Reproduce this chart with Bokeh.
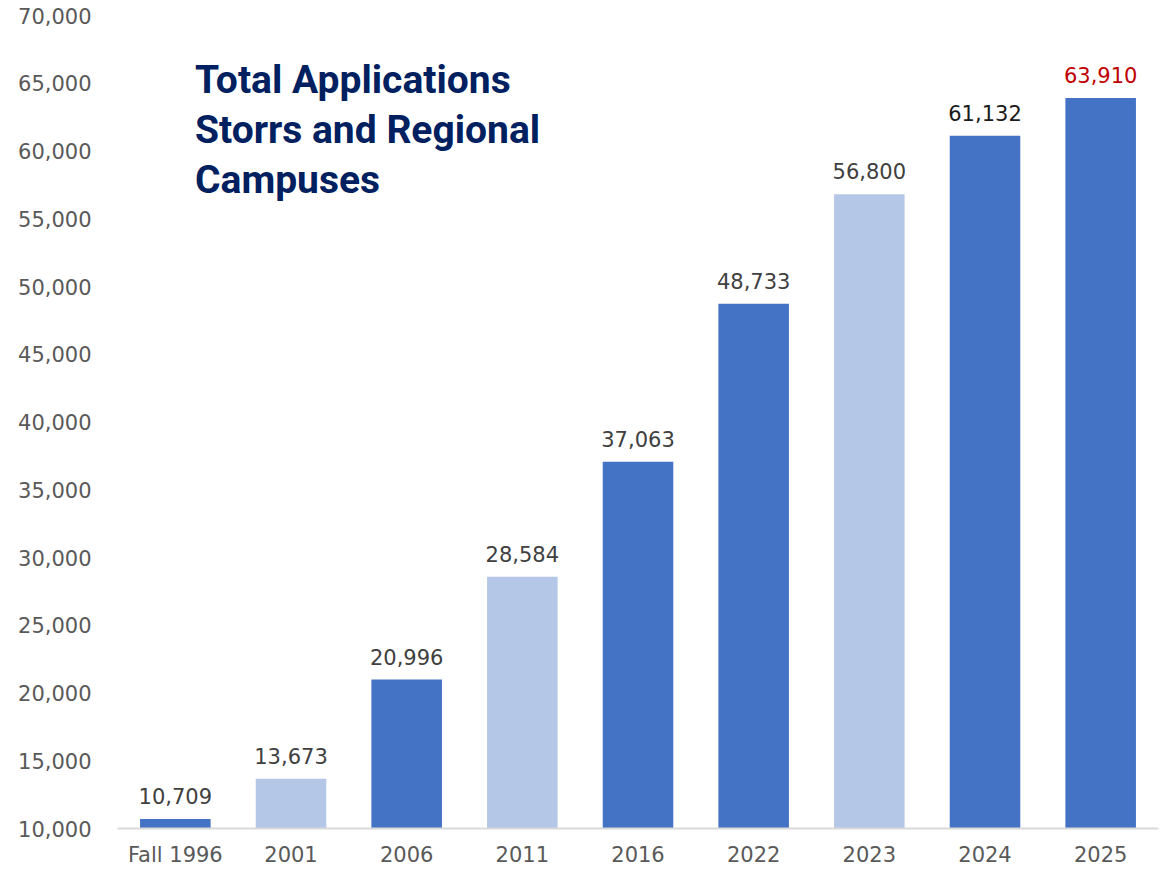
from bokeh.plotting import figure
from bokeh.models import ColumnDataSource, Range1d, FixedTicker, NumeralTickFormatter, Label
from bokeh.core.properties import value
from bokeh.embed import file_html
from bokeh.resources import INLINE

years = ["Fall 1996", "2001", "2006", "2011", "2016", "2022", "2023", "2024", "2025"]
applications = [10709, 13673, 20996, 28584, 37063, 48733, 56800, 61132, 63910]
labels = ["10,709", "13,673", "20,996", "28,584", "37,063", "48,733", "56,800", "61,132", "63,910"]
bar_colors = ["#4472C4", "#B4C7E7", "#4472C4", "#B4C7E7", "#4472C4", "#4472C4", "#B4C7E7", "#4472C4", "#4472C4"]
label_colors = ["#404040"] * 7 + ["#1a1a1a", "#C00000"]
title_lines = ["Total Applications", "Storrs and Regional", "Campuses"]
y_ticks = [10000, 15000, 20000, 25000, 30000, 35000, 40000, 45000, 50000, 55000, 60000, 65000, 70000]

FONT = "DejaVu Sans"
TFONT = "Roboto"

src = ColumnDataSource(dict(x=years, top=applications, color=bar_colors,
                            label=labels, lcolor=label_colors))

p = figure(x_range=years, y_range=Range1d(10000, 70000), width=1160, height=869,
           output_backend="svg", toolbar_location=None,
           min_border_left=117, min_border_right=2, min_border_top=15, min_border_bottom=30)
p.outline_line_color = None
p.background_fill_color = "white"
p.border_fill_color = "white"
p.grid.grid_line_color = None
p.x_range.range_padding = 0

p.vbar(x="x", top="top", bottom=10000, width=0.61, color="color", source=src, line_color=None)
p.text(x="x", y="top", text="label", source=src, text_align="center", text_baseline="bottom",
       y_offset=-15, text_font=value(FONT), text_font_size="21px", text_color="lcolor")

# y axis
p.yaxis.ticker = FixedTicker(ticks=y_ticks)
p.yaxis.formatter = NumeralTickFormatter(format="0,0")
p.yaxis.axis_line_color = None
p.yaxis.major_tick_line_color = None
p.yaxis.minor_tick_line_color = None
p.yaxis.major_label_text_font = FONT
p.yaxis.major_label_text_font_size = "21px"
p.yaxis.major_label_text_color = "#595959"
p.yaxis.major_label_standoff = 20

# x axis
p.xaxis.axis_line_color = "#D9D9D9"
p.xaxis.axis_line_width = 2
p.xaxis.major_tick_line_color = None
p.xaxis.minor_tick_line_color = None
p.xaxis.major_label_text_font = FONT
p.xaxis.major_label_text_font_size = "21px"
p.xaxis.major_label_text_color = "#595959"
p.xaxis.major_label_standoff = 8

# title block
title_y = [65270, 61580, 57880]
for t, yy in zip(title_lines, title_y):
    p.add_layout(Label(x=0.67, y=yy, text=t, text_font=TFONT, text_font_size="39px",
                       text_font_style="bold",
                       text_color="#002060", text_baseline="alphabetic", text_align="left"))

open("out.html", "w").write(file_html(p, INLINE))
